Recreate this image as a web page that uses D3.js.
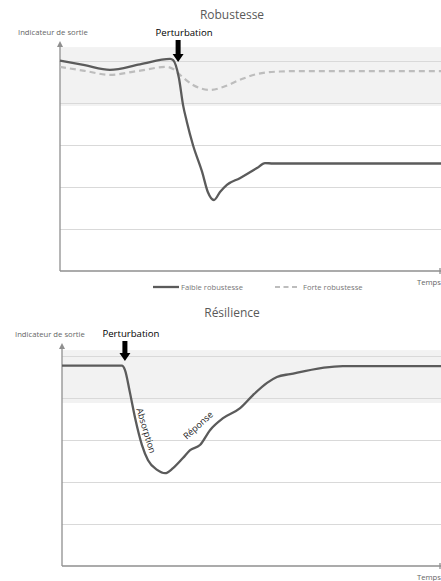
<!DOCTYPE html>
<html>
<head>
<meta charset="utf-8">
<script src="https://cdn.jsdelivr.net/npm/d3@7"></script>
<style>
html,body{margin:0;padding:0;background:#fff;}
svg{display:block;font-family:"Open Sans",sans-serif;}
</style>
</head>
<body>
<svg id="c" width="441" height="581"></svg>
<script>
// ---- data ----
const robTime = [0, 6.5, 13.1, 21.0, 28.9, 29.7, 31.2, 32.3, 33.3, 34.9, 37.3, 38.8, 40.4, 42.0, 43.8, 47.2, 51.7, 53.8, 55.9, 100];
const faibleValues = [5.01, 4.90, 4.79, 4.92, 5.05, 5.02, 4.60, 3.95, 3.55, 3.0, 2.36, 1.88, 1.69, 1.88, 2.05, 2.21, 2.45, 2.57, 2.56, 2.56];
const forteTime = [0, 6.5, 13.1, 20.6, 28.1, 29.7, 31.5, 34.9, 39.4, 42.8, 47.2, 51.7, 57.7, 63.0, 100];
const forteValues = [4.86, 4.765, 4.67, 4.765, 4.86, 4.81, 4.67, 4.43, 4.31, 4.38, 4.55, 4.69, 4.75, 4.76, 4.76];
const resTime = [0, 15.8, 16.6, 17.9, 19.3, 21.1, 22.7, 25.1, 27.2, 29.3, 31.9, 33.8, 36.4, 39.1, 42.5, 47.0, 50.4, 54.1, 56.7, 60.2, 74.1, 100];
const resValues = [4.77, 4.77, 4.67, 4.14, 3.52, 2.88, 2.52, 2.29, 2.21, 2.33, 2.57, 2.76, 2.88, 3.24, 3.52, 3.76, 4.07, 4.36, 4.50, 4.57, 4.76, 4.76];
const yTicks = [1, 2, 3, 4, 5];
const robBand = [3.93, 5.33];
const resBand = [3.88, 5.14];
const robPerturbation = 31.0;
const resPerturbation = 16.6;
const titles = ["Robustesse", "Résilience"];
const legendLabels = ["Faible robustesse", "Forte robustesse"];

const svg = d3.select("#c");
const W = 441;
const gridC = "#d9d9d9", axisC = "#8f8f8f", bandC = "#f2f2f2", lineC = "#5b5b5b", dashC = "#bdbdbd";

function panel(opt) {
  const g = svg.append("g");
  const x = d3.scaleLinear().domain([0, 100]).range([opt.x0, 441]);
  const y = d3.scaleLinear().domain([0, 5]).range([opt.yBottom, opt.yBottom - 210]);
  // band
  g.append("rect").attr("x", opt.x0).attr("width", W - opt.x0)
    .attr("y", y(opt.band[1])).attr("height", y(opt.band[0]) - y(opt.band[1]))
    .attr("fill", bandC);
  // gridlines
  const ax = d3.axisLeft(y).tickValues(yTicks).tickSize(-(W - opt.x0)).tickFormat("");
  const ga = g.append("g").attr("transform", `translate(${opt.x0},0)`).call(ax);
  ga.select(".domain").remove();
  ga.selectAll(".tick line").attr("stroke", gridC).attr("stroke-width", 1);
  // axes
  g.append("line").attr("x1", opt.x0).attr("x2", opt.x0).attr("y1", opt.yBottom).attr("y2", opt.yTop + 4)
    .attr("stroke", axisC).attr("stroke-width", 1.3);
  g.append("path").attr("d", `M${opt.x0 - 3},${opt.yTop + 5}L${opt.x0},${opt.yTop - 1}L${opt.x0 + 3},${opt.yTop + 5}Z`).attr("fill", axisC);
  g.append("line").attr("x1", opt.x0).attr("x2", 441).attr("y1", opt.yBottom).attr("y2", opt.yBottom)
    .attr("stroke", axisC).attr("stroke-width", 1.3);
  g.append("line").attr("x1", 440).attr("x2", 440).attr("y1", opt.yBottom - 3).attr("y2", opt.yBottom + 3)
    .attr("stroke", axisC).attr("stroke-width", 1.3);
  // texts
  g.append("text").attr("x", 232).attr("y", opt.titleY).attr("text-anchor", "middle")
    .attr("font-size", 12).attr("fill", "#595959").text(opt.title);
  g.append("text").attr("x", opt.labelX).attr("y", opt.labelY).attr("font-size", 7.7)
    .attr("fill", "#666").text("Indicateur de sortie");
  g.append("text").attr("x", 441).attr("y", opt.yBottom + 14).attr("text-anchor", "end")
    .attr("font-size", 7.7).attr("fill", "#666").text("Temps");
  // perturbation
  const px = x(opt.pert);
  g.append("text").attr("x", px + 6).attr("y", opt.pertTextY).attr("text-anchor", "middle")
    .attr("font-size", 9.6).attr("fill", "#000").text("Perturbation");
  const top = opt.arrowTop, tip = opt.arrowTip;
  g.append("path").attr("d",
    `M${px - 2.5},${top}L${px + 2.5},${top}L${px + 2.5},${tip - 8}L${px + 5.5},${tip - 8}L${px},${tip}L${px - 5.5},${tip - 8}L${px - 2.5},${tip - 8}Z`)
    .attr("fill", "#000");
  return {g, x, y};
}

const line = (x, y) => d3.line().x(d => x(d[0])).y(d => y(d[1])).curve(d3.curveMonotoneX);

// ---- top panel ----
const p1 = panel({x0: 60, yBottom: 271, yTop: 42, band: robBand, title: titles[0], titleY: 19,
  labelX: 18, labelY: 35, pert: robPerturbation, pertTextY: 36, arrowTop: 40, arrowTip: 62});
p1.g.append("path").datum(forteTime.map((t, i) => [t, forteValues[i]]))
  .attr("d", line(p1.x, p1.y)).attr("fill", "none").attr("stroke", dashC)
  .attr("stroke-width", 2.2).attr("stroke-dasharray", "6,4");
p1.g.append("path").datum(robTime.map((t, i) => [t, faibleValues[i]]))
  .attr("d", line(p1.x, p1.y)).attr("fill", "none").attr("stroke", lineC)
  .attr("stroke-width", 2.3).attr("stroke-linejoin", "round");
// legend
const lg = svg.append("g");
lg.append("line").attr("x1", 153).attr("x2", 179).attr("y1", 287).attr("y2", 287).attr("stroke", lineC).attr("stroke-width", 2.3);
lg.append("text").attr("x", 181).attr("y", 289.5).attr("font-size", 7.6).attr("fill", "#777").text(legendLabels[0]);
lg.append("line").attr("x1", 275).attr("x2", 299).attr("y1", 287).attr("y2", 287).attr("stroke", dashC).attr("stroke-width", 2).attr("stroke-dasharray", "5,3.5");
lg.append("text").attr("x", 303).attr("y", 289.5).attr("font-size", 7.6).attr("fill", "#777").text(legendLabels[1]);

// ---- bottom panel ----
const p2 = panel({x0: 62, yBottom: 566, yTop: 344, band: resBand, title: titles[1], titleY: 317,
  labelX: 15, labelY: 337, pert: resPerturbation, pertTextY: 337, arrowTop: 341, arrowTip: 361});
p2.g.append("path").datum(resTime.map((t, i) => [t, resValues[i]]))
  .attr("d", line(p2.x, p2.y)).attr("fill", "none").attr("stroke", lineC)
  .attr("stroke-width", 2.3).attr("stroke-linejoin", "round");
// annotations along curve
p2.g.append("text").attr("transform", `translate(${p2.x(20.6) + 3},${p2.y(3.2)}) rotate(73)`)
  .attr("text-anchor", "middle").attr("font-size", 9).attr("fill", "#222").text("Absorption");
p2.g.append("text").attr("transform", `translate(${p2.x(37.0) - 2},${p2.y(3.2) - 4}) rotate(-42)`)
  .attr("text-anchor", "middle").attr("font-size", 9).attr("fill", "#222").text("Réponse");
</script>
</body>
</html>
